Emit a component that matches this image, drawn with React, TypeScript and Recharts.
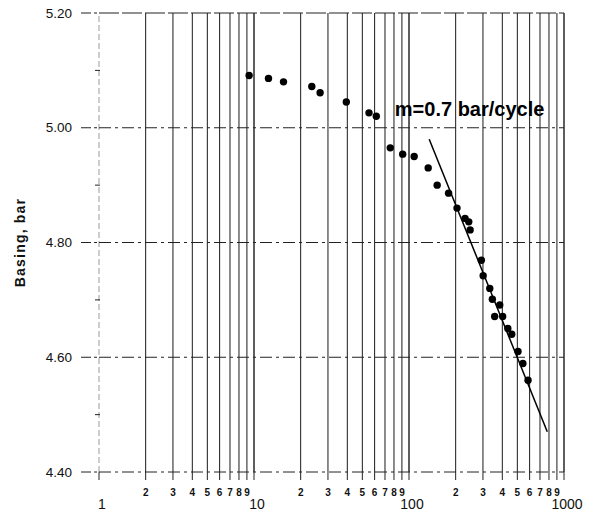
import React from 'react';
import {
    ComposedChart,
    Scatter,
    Line,
    XAxis,
    YAxis,
    ReferenceLine,
    ReferenceDot,
    Label,
} from 'recharts';

// cycles (log axis) and basing pressure, bar
const cycles = [
    9.3, 12.4, 15.5, 23.6, 26.7, 39.4, 55.2, 61.5, 75.7, 91, 108, 133, 152, 180,
    204, 230, 243, 248, 293, 301, 332, 345, 385, 357, 402, 434, 460, 505, 543, 586,
];
const basing = [
    5.091, 5.086, 5.08, 5.072, 5.061, 5.045, 5.026, 5.02, 4.965, 4.954, 4.95, 4.93, 4.9, 4.886,
    4.86, 4.842, 4.836, 4.822, 4.769, 4.742, 4.72, 4.701, 4.691, 4.671, 4.671, 4.65, 4.64, 4.61, 4.589, 4.56,
];

// fitted slope line
const fitCycles = [135, 780];
const fitBasing = [4.98, 4.47];

const xTicks = [
    1, 2, 3, 4, 5, 6, 7, 8, 9,
    10, 20, 30, 40, 50, 60, 70, 80, 90,
    100, 200, 300, 400, 500, 600, 700, 800, 900,
    1000,
];
const xMajor = [1, 10, 100, 1000];
const yTicks = [4.4, 4.5, 4.6, 4.7, 4.8, 4.9, 5.0, 5.1, 5.2];
const yMajor = [4.4, 4.6, 4.8, 5.0, 5.2];

const note = 'm=0.7 bar/cycle';
const noteCycles = 81;
const noteBasing = 5.02;

const FONT = '"Liberation Sans", Arial, sans-serif';

const points = cycles.map((c, i) => ({ x: c, y: basing[i] }));
const fit = fitCycles.map((c, i) => ({ x: c, y: fitBasing[i] }));

const XTick = (props: any) => {
    const { x, y, payload } = props;
    const major = xMajor.includes(payload.value);
    return (
        <g>
            <line x1={x} x2={x} y1={y} y2={y + 8} stroke="#222" strokeWidth={1} />
            {major ? (
                <text x={x + 3} y={y + 32} textAnchor="middle" dominantBaseline="central"
                      fontFamily={FONT} fontSize={14} fill="#111">
                    {payload.value}
                </text>
            ) : (
                <text x={x} y={y + 20} textAnchor="middle" dominantBaseline="central"
                      fontFamily={FONT} fontSize={10} fontWeight="bold" fill="#111">
                    {String(payload.value)[0]}
                </text>
            )}
        </g>
    );
};

const YTick = (props: any) => {
    const { x, y, payload } = props;
    const major = yMajor.some((v) => Math.abs(v - payload.value) < 1e-6);
    if (!major) {
        return <line x1={x - 4} x2={x + 1} y1={y} y2={y} stroke="#222" strokeWidth={1} />;
    }
    return (
        <g>
            <line x1={x - 18} x2={x} y1={y} y2={y} stroke="#222" strokeWidth={1} strokeDasharray="10 3 3 3" />
            <text x={x - 27} y={y} textAnchor="end" dominantBaseline="central"
                  fontFamily={FONT} fontSize={13.5} fill="#111">
                {payload.value.toFixed(2)}
            </text>
        </g>
    );
};

const YTitle = (props: any) => {
    const vb = props.viewBox || { x: 0, y: 13, width: 99, height: 459 };
    const cy = vb.y + vb.height / 2;
    return (
        <text x={20} y={cy} transform={`rotate(-90, 20, ${cy})`} textAnchor="middle"
              dominantBaseline="central" fontFamily={FONT} fontSize={14} fontWeight="bold"
              letterSpacing={1.2} fill="#111">
            Basing, bar
        </text>
    );
};

const NoteLabel = (props: any) => {
    const vb = props.viewBox || { x: 0, y: 0 };
    const x = vb.x + (vb.width || 0) / 2;
    const y = vb.y + (vb.height || 0) / 2;
    return (
        <text x={x} y={y} fontFamily={FONT} fontSize={20} fontWeight="bold" fill="#000">
            {note}
        </text>
    );
};

const Dot = (props: any) => <circle cx={props.cx} cy={props.cy} r={3.7} fill="#000" />;

export default function App() {
    return (
        <div style={{ position: 'absolute', left: 0, top: 0, width: 593, height: 515, background: '#fff' }}>
            <ComposedChart width={593} height={515} margin={{ top: 13, right: 29, bottom: 0, left: 0 }}>
                <XAxis
                    type="number"
                    dataKey="x"
                    scale="log"
                    domain={[1, 1000]}
                    ticks={xTicks}
                    interval={0}
                    allowDataOverflow
                    axisLine={false}
                    tickLine={false}
                    tickSize={0}
                    tickMargin={0}
                    height={43}
                    tick={<XTick />}
                />
                <YAxis
                    type="number"
                    dataKey="y"
                    domain={[4.4, 5.2]}
                    ticks={yTicks}
                    interval={0}
                    allowDataOverflow
                    axisLine={false}
                    tickLine={false}
                    tickSize={0}
                    tickMargin={0}
                    width={99}
                    tick={<YTick />}
                >
                    <Label content={<YTitle />} />
                </YAxis>
                {xTicks.map((v) => (
                    <ReferenceLine
                        key={'vx' + v}
                        x={v}
                        stroke={v === 1 ? '#9a9a9a' : '#1a1a1a'}
                        strokeWidth={xMajor.includes(v) && v !== 1 ? 1.4 : 1}
                        strokeDasharray={v === 1 ? '6 3' : undefined}
                    />
                ))}
                {yMajor.map((v) => (
                    <ReferenceLine
                        key={'hy' + v}
                        y={v}
                        stroke="#222"
                        strokeWidth={1}
                        strokeDasharray={v === 5.2 ? '20 3' : '12 4 3 4'}
                    />
                ))}
                <Line
                    data={fit}
                    dataKey="y"
                    stroke="#000"
                    strokeWidth={1.5}
                    dot={false}
                    activeDot={false}
                    isAnimationActive={false}
                />
                <Scatter data={points} dataKey="y" shape={<Dot />} isAnimationActive={false} />
                <ReferenceDot x={noteCycles} y={noteBasing} r={0} fill="none" stroke="none">
                    <Label content={<NoteLabel />} />
                </ReferenceDot>
            </ComposedChart>
        </div>
    );
}
